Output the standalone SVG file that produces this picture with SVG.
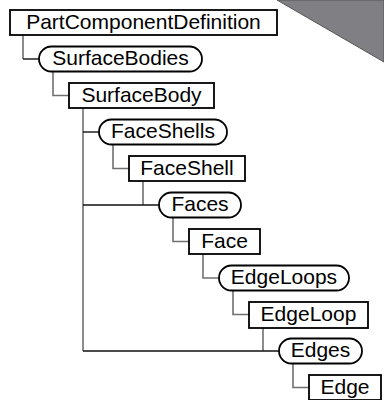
<svg xmlns="http://www.w3.org/2000/svg" width="384" height="400" viewBox="0 0 384 400">
<style>
.n{fill:#fff;stroke:#000;stroke-width:1.8}
.t{font-family:"Liberation Sans",Arial,sans-serif;font-size:21px;fill:#000;text-anchor:middle}
.g{fill:none;stroke:#707070;stroke-width:1.6}
.k{fill:none;stroke:#111;stroke-width:1.4}
</style>
<rect width="384" height="400" fill="#fff"/>
<polygon points="277,0 384,0 384,62" fill="#808084" stroke="#555" stroke-width="1"/>
<g id="connectors">
<polyline class="g" points="23,35 23,59"/><polyline class="k" points="23,59 39,59"/>
<polyline class="g" points="53,71.5 53,95.5 69,95.5"/>
<polyline class="g" points="83,108 83,351"/>
<polyline class="k" points="83,132 99,132"/>
<polyline class="g" points="113,144.5 113,168.5 129,168.5"/>
<polyline class="g" points="143,181 143,205"/>
<polyline class="k" points="83,205 159,205"/>
<polyline class="g" points="173,217.5 173,241.5 189,241.5"/>
<polyline class="g" points="203,254 203,278 219,278"/>
<polyline class="g" points="233,290.5 233,314.5 249,314.5"/>
<polyline class="g" points="263,328 263,351"/>
<polyline class="k" points="83,351 279,351"/>
<polyline class="g" points="293,363.5 293,387.5 309,387.5"/>
</g>
<g id="PartComponentDefinition"><rect class="n" x="10" y="10" width="267" height="25"/><text class="t" x="143.5" y="28.5">PartComponentDefinition</text></g>
<g id="SurfaceBodies"><rect class="n" x="39" y="46.5" width="163" height="25" rx="12.5"/><text class="t" x="120.5" y="65">SurfaceBodies</text></g>
<g id="SurfaceBody"><rect class="n" x="69" y="83" width="145" height="25"/><text class="t" x="141.5" y="101.5">SurfaceBody</text></g>
<g id="FaceShells"><rect class="n" x="99" y="119.5" width="128" height="25" rx="12.5"/><text class="t" x="163" y="138">FaceShells</text></g>
<g id="FaceShell"><rect class="n" x="129" y="156" width="116" height="25"/><text class="t" x="187" y="174.5">FaceShell</text></g>
<g id="Faces"><rect class="n" x="159" y="192.5" width="82" height="25" rx="12.5"/><text class="t" x="200" y="211">Faces</text></g>
<g id="Face"><rect class="n" x="189" y="229" width="71" height="25"/><text class="t" x="224.5" y="247.5">Face</text></g>
<g id="EdgeLoops"><rect class="n" x="219" y="265.5" width="130" height="25" rx="12.5"/><text class="t" x="284" y="284">EdgeLoops</text></g>
<g id="EdgeLoop"><rect class="n" x="249" y="302" width="119" height="26"/><text class="t" x="308.5" y="321">EdgeLoop</text></g>
<g id="Edges"><rect class="n" x="279" y="338.5" width="83" height="25" rx="12.5"/><text class="t" x="320.5" y="357">Edges</text></g>
<g id="Edge"><rect class="n" x="309" y="375" width="72" height="25"/><text class="t" x="345" y="393.5">Edge</text></g>
</svg>
